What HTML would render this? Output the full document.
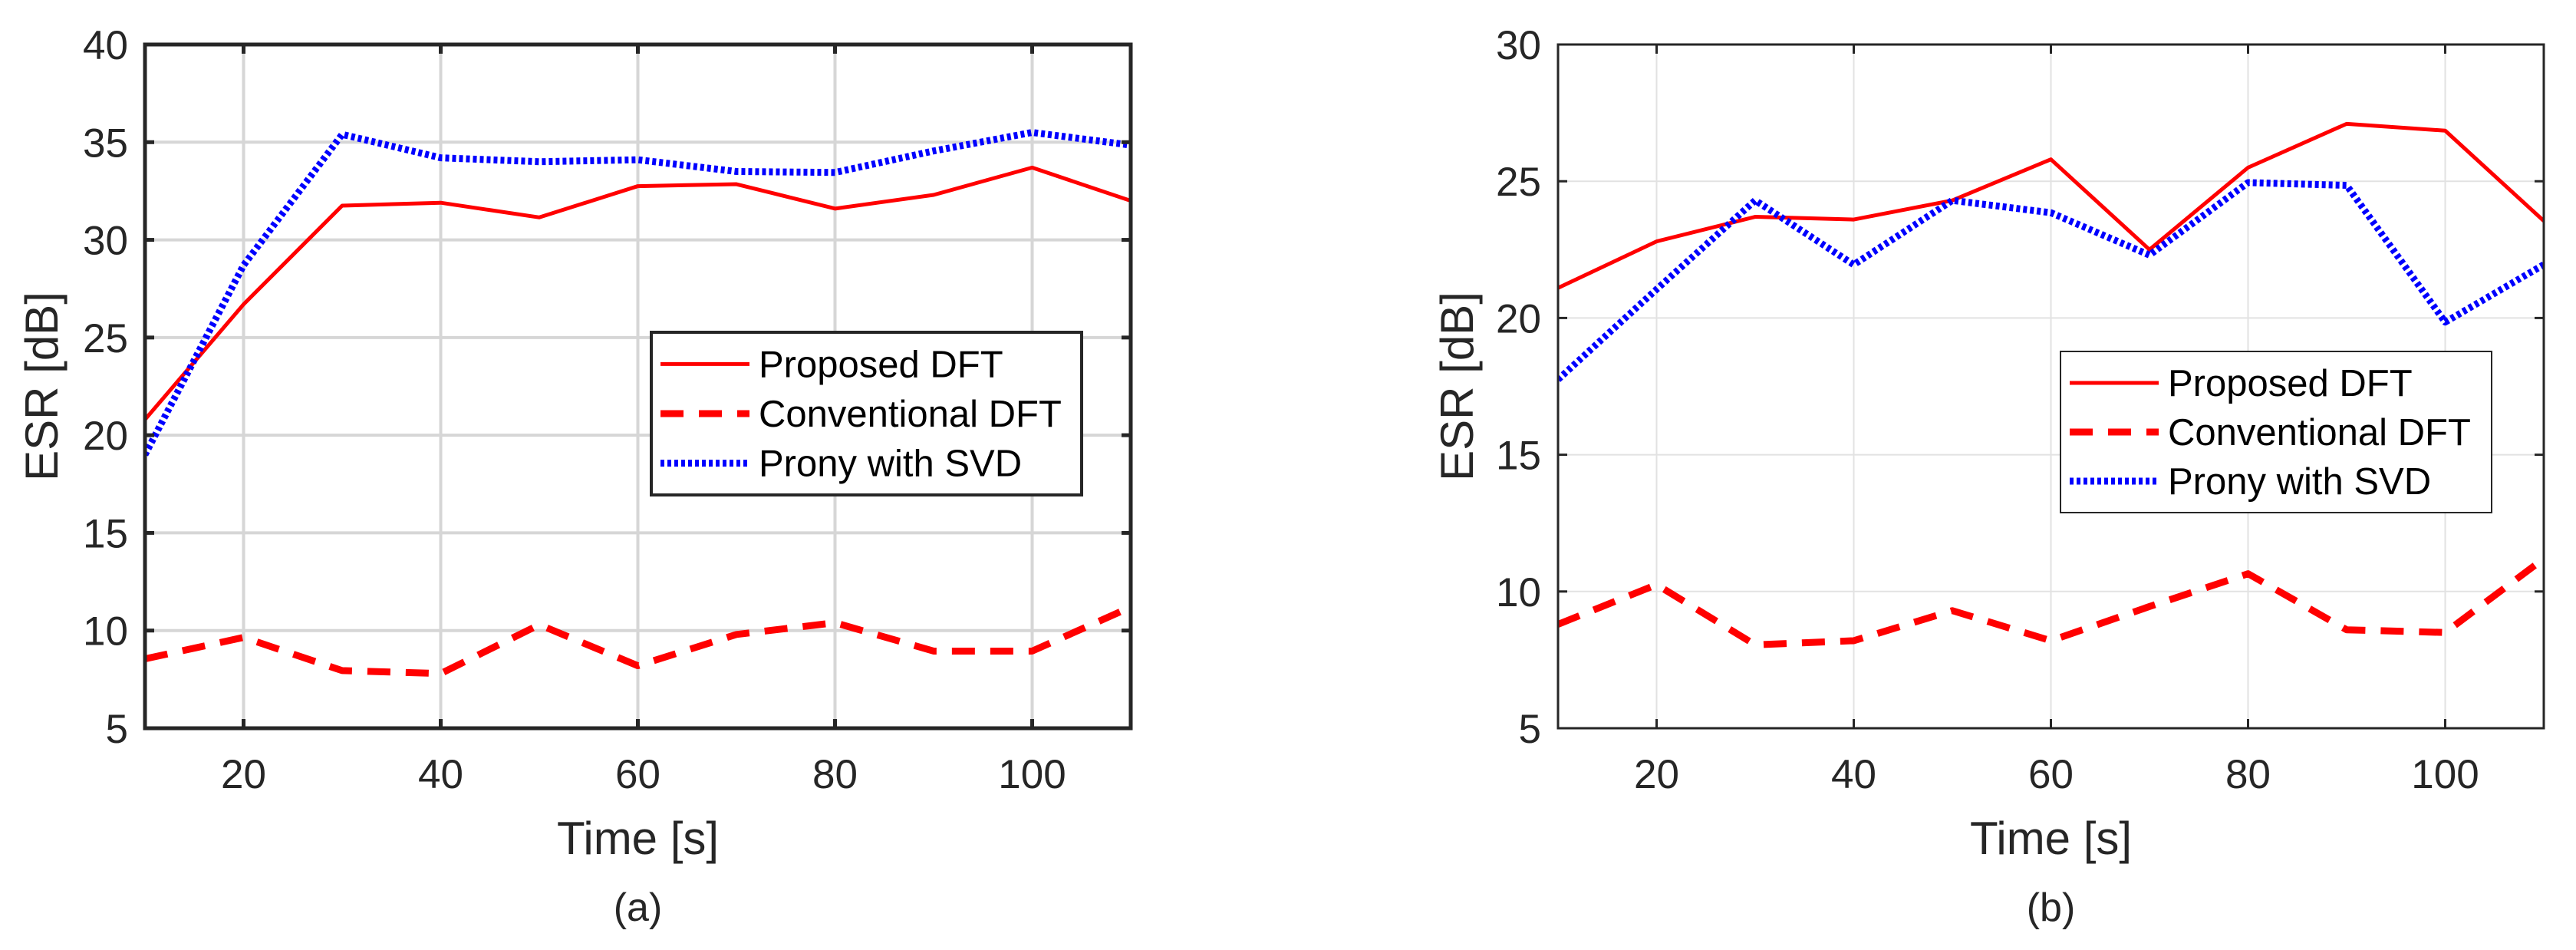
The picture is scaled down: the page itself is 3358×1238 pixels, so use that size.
<!DOCTYPE html>
<html><head><meta charset="utf-8"><style>
html,body{margin:0;padding:0;background:#fff;}
svg{display:block;font-family:"Liberation Sans",Arial,sans-serif;}
</style></head>
<body>
<svg id="fig" width="3358" height="1238" viewBox="0 0 3358 1238" xmlns="http://www.w3.org/2000/svg"></svg>
<script>
const timesA = [10,20,30,40,50,60,70,80,90,100,110];
const proposedA = [20.8,26.7,31.75,31.9,31.15,32.75,32.85,31.6,32.3,33.7,32.0];
const conventionalA = [8.55,9.65,7.95,7.8,10.3,8.2,9.8,10.4,8.95,8.95,11.2];
const pronyA = [19.0,28.7,35.4,34.2,34.0,34.1,33.5,33.45,34.55,35.5,34.85];
const timesB = [10,20,30,40,50,60,70,80,90,100,110];
const proposedB = [21.1,22.8,23.7,23.6,24.3,25.8,22.5,25.5,27.1,26.85,23.55];
const conventionalB = [8.8,10.25,8.05,8.2,9.3,8.2,9.45,10.65,8.6,8.5,11.2];
const pronyB = [17.75,21.05,24.3,21.95,24.3,23.85,22.3,24.95,24.85,19.85,21.95];
const xTicks = [20,40,60,80,100];
const yTicksA = [5,10,15,20,25,30,35,40];
const yTicksB = [5,10,15,20,25,30];
const legendLabels = ["Proposed DFT","Conventional DFT","Prony with SVD"];

const NS="http://www.w3.org/2000/svg";
const svg=document.getElementById('fig');
function mk(tag,attrs,parent){const e=document.createElementNS(NS,tag);for(const k in attrs)e.setAttribute(k,attrs[k]);(parent||svg).appendChild(e);return e;}

function panel(cfg){
  const g=mk('g',{});
  
  
  const {x0,x1,y0,y1,ymin,ymax}=cfg;
  const sx=v=>x0+(v-10)/(110-10)*(x1-x0);
  const sy=v=>y1-(v-ymin)/(ymax-ymin)*(y1-y0);
  // grid
  xTicks.forEach(t=>{const l=mk('line',{x1:sx(t),x2:sx(t),y1:y0,y2:y1,stroke:cfg.gridColor,'stroke-width':cfg.gridW},g);
    });
  cfg.yTicks.forEach(t=>{const l=mk('line',{x1:x0,x2:x1,y1:sy(t),y2:sy(t),stroke:cfg.gridColor,'stroke-width':cfg.gridW},g);
    });
  // series
  const series=[
    {vals:cfg.prop,stroke:'#ff0000',w:5,dash:null,name:'proposed-dft-line'},
    {vals:cfg.conv,stroke:'#ff0000',w:9,dash:'30 20',name:'conventional-dft-line'},
    {vals:cfg.prony,stroke:'#0000ff',w:9,dash:'5 4',name:'prony-svd-line'}];
  const clip=mk('clipPath',{id:cfg.name+'-clip'},g);
  mk('rect',{x:x0,y:y0,width:x1-x0,height:y1-y0},clip);
  series.forEach(s=>{
    const pts=cfg.times.map((t,i)=>sx(t)+','+sy(s.vals[i])).join(' ');
    const a={points:pts,fill:'none',stroke:s.stroke,'stroke-width':s.w,'stroke-linejoin':'round','clip-path':'url(#'+cfg.name+'-clip)'};
    if(s.dash)a['stroke-dasharray']=s.dash;
    const p=mk('polyline',a,g);
    
  });
  // ticks
  const tl=12;
  xTicks.forEach(t=>{
    mk('line',{x1:sx(t),x2:sx(t),y1:y1,y2:y1-tl,stroke:'#262626','stroke-width':cfg.boxW},g);
    mk('line',{x1:sx(t),x2:sx(t),y1:y0,y2:y0+tl,stroke:'#262626','stroke-width':cfg.boxW},g);
    const tx=mk('text',{x:sx(t),y:y1+78,'font-size':53,'text-anchor':'middle',fill:'#262626'},g);
    tx.textContent=t;
  });
  cfg.yTicks.forEach(t=>{
    mk('line',{x1:x0,x2:x0+tl,y1:sy(t),y2:sy(t),stroke:'#262626','stroke-width':cfg.boxW},g);
    mk('line',{x1:x1,x2:x1-tl,y1:sy(t),y2:sy(t),stroke:'#262626','stroke-width':cfg.boxW},g);
    const tx=mk('text',{x:x0-22,y:sy(t)+19,'font-size':53,'text-anchor':'end',fill:'#262626'},g);
    tx.textContent=t;
  });
  const box=mk('rect',{x:x0,y:y0,width:x1-x0,height:y1-y0,fill:'none',stroke:'#262626','stroke-width':cfg.boxW},g);
  
  // labels
  const xl=mk('text',{x:(x0+x1)/2,y:1113,'font-size':60,'text-anchor':'middle',fill:'#262626'},g);
  xl.textContent='Time [s]';
  const yl=mk('text',{x:0,y:0,'font-size':60,'text-anchor':'middle',fill:'#262626',transform:'translate('+(cfg.ylx+21)+','+((y0+y1)/2)+') rotate(-90)'},g);
  yl.textContent='ESR [dB]';
  const cap=mk('text',{x:(x0+x1)/2,y:1200,'font-size':52,'text-anchor':'middle',fill:'#262626'},g);
  cap.textContent=cfg.caption;
  // legend
  const L=cfg.legend;
  const lg=mk('g',{},g);
  
  mk('rect',{x:L.x,y:L.y,width:L.w,height:L.h,fill:'#fff',stroke:'#262626','stroke-width':cfg.boxW-1},lg);
  const rowH=L.h/3.15;
  series.forEach((s,i)=>{
    const cy=L.y+L.h*0.195+i*L.h*0.305;
    const a={x1:L.x+12,x2:L.x+128,y1:cy,y2:cy,stroke:s.stroke,'stroke-width':s.w};
    if(s.dash)a['stroke-dasharray']=s.dash;
    mk('line',a,lg);
    const tx=mk('text',{x:L.x+140,y:cy+17,'font-size':49,fill:'#000'},lg);
    tx.textContent=legendLabels[i];
  });
}

panel({name:'panel-a',x0:189,x1:1474,y0:58,y1:949,ymin:5,ymax:40,yTicks:yTicksA,
  times:timesA,prop:proposedA,conv:conventionalA,prony:pronyA,gridColor:'#d6d6d6',gridW:4,boxW:5,
  ylx:54,caption:'(a)',legend:{x:849,y:433,w:561,h:212}});
panel({name:'panel-b',x0:2031,x1:3316,y0:58,y1:949,ymin:5,ymax:30,yTicks:yTicksB,
  times:timesB,prop:proposedB,conv:conventionalB,prony:pronyB,gridColor:'#e2e2e2',gridW:2,boxW:3,
  ylx:1899,caption:'(b)',legend:{x:2686,y:458,w:562,h:210}});
</script>
</body></html>
